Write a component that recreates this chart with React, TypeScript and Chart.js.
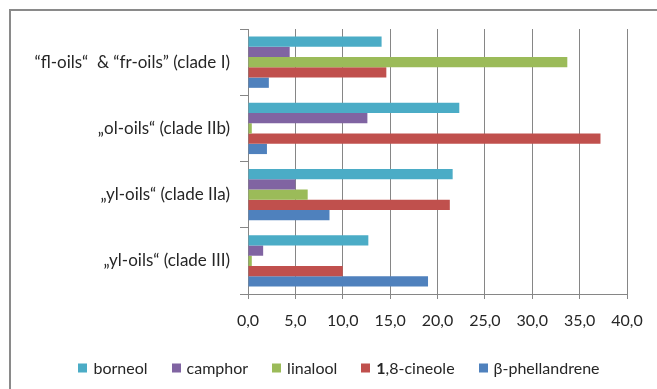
import React, { useEffect, useRef } from 'react';
import { Chart, registerables } from 'chart.js';

Chart.register(...registerables);

// Oil groups (top to bottom)
const categories = [
  '“fl-oils“  & “fr-oils” (clade I)',
  '„ol-oils“ (clade IIb)',
  '„yl-oils“ (clade IIa)',
  '„yl-oils“ (clade III)',
];

// Compound shares per group (%)
const borneol = [14.1, 22.3, 21.6, 12.7];
const camphor = [4.4, 12.6, 5.0, 1.6];
const linalool = [33.7, 0.4, 6.3, 0.4];
const cineole = [14.6, 37.2, 21.3, 10.0];
const phellandrene = [2.2, 2.0, 8.6, 19.0];

const seriesNames = ['borneol', 'camphor', 'linalool', '1,8-cineole', 'β-phellandrene'];
const seriesColors = ['#4BACC6', '#8064A2', '#9BBB59', '#C0504D', '#4F81BD'];
const seriesValues = [borneol, camphor, linalool, cineole, phellandrene];

const xTickLabels = ['0,0', '5,0', '10,0', '15,0', '20,0', '25,0', '30,0', '35,0', '40,0'];

const FONT = 'Lato, "Open Sans", sans-serif';
const TEXT = '#262626';
const GRID = '#868686';

// Draws the outer frame of the chart object
const framePlugin = {
  id: 'frame',
  beforeDraw(chart: any) {
    const ctx = chart.ctx;
    ctx.save();
    ctx.fillStyle = '#ffffff';
    ctx.fillRect(0, 0, chart.width, chart.height);
    ctx.strokeStyle = '#8a8a8a';
    ctx.lineWidth = 2;
    ctx.beginPath();
    ctx.moveTo(10, chart.height);
    ctx.lineTo(10, 10);
    ctx.lineTo(chart.width, 10);
    ctx.stroke();
    ctx.restore();
  },
};

// Legend row below the axis; the leading "1" of 1,8-cineole is set in bold
const legendPlugin = {
  id: 'bottomLegend',
  afterDraw(chart: any) {
    const ctx = chart.ctx;
    const size = 16;
    const box = 9;
    const boxGap = 6;
    const itemGap = 24;
    const y = 368;
    ctx.save();
    ctx.textBaseline = 'middle';
    const parts = seriesNames.map((name) => {
      if (name.startsWith('1,')) return [{ t: '1', b: true }, { t: name.slice(1), b: false }];
      return [{ t: name, b: false }];
    });
    const widths = parts.map((segs) =>
      segs.reduce((w, s) => {
        ctx.font = `${s.b ? 'bold ' : ''}${size}px ${FONT}`;
        return w + ctx.measureText(s.t).width;
      }, 0)
    );
    const total = widths.reduce((a, w) => a + box + boxGap + w, 0) + itemGap * (widths.length - 1);
    let x = 339 - total / 2;
    parts.forEach((segs, i) => {
      ctx.fillStyle = seriesColors[i];
      ctx.fillRect(Math.round(x), y - box / 2, box, box);
      let tx = x + box + boxGap;
      segs.forEach((s) => {
        ctx.font = `${s.b ? 'bold ' : ''}${size}px ${FONT}`;
        ctx.fillStyle = TEXT;
        ctx.textAlign = 'left';
        ctx.fillText(s.t, tx, y + 1);
        tx += ctx.measureText(s.t).width;
      });
      x += box + boxGap + widths[i] + itemGap;
    });
    ctx.restore();
  },
};

export default function App() {
  const canvasRef = useRef<HTMLCanvasElement | null>(null);

  useEffect(() => {
    if (!canvasRef.current) return;
    const chart = new Chart(canvasRef.current, {
      type: 'bar',
      data: {
        labels: categories,
        datasets: seriesNames.map((name, i) => ({
          label: name,
          data: seriesValues[i],
          backgroundColor: seriesColors[i],
          borderWidth: 0,
          categoryPercentage: 0.776,
          barPercentage: 1,
        })),
      },
      options: {
        indexAxis: 'y',
        animation: false,
        responsive: false,
        maintainAspectRatio: false,
        layout: { padding: { top: 29, right: 30, left: 0, bottom: 0 } },
        plugins: {
          legend: { display: false },
          tooltip: { enabled: false },
        },
        scales: {
          x: {
            min: 0,
            max: 40,
            ticks: {
              stepSize: 5,
              padding: 12,
              color: TEXT,
              font: { family: FONT, size: 16 },
              callback: (_v: any, i: number) => xTickLabels[i],
              maxRotation: 0,
            },
            grid: { color: GRID, lineWidth: 1, tickLength: 5, drawTicks: true },
            border: { display: true, color: GRID, width: 1 },
            afterFit: (scale: any) => {
              scale.height = 95;
            },
          },
          y: {
            ticks: {
              padding: 10,
              color: TEXT,
              font: { family: FONT, size: 17 },
            },
            grid: {
              offset: true,
              drawOnChartArea: false,
              drawTicks: true,
              tickLength: 8,
              color: GRID,
            },
            border: { display: true, color: GRID, width: 1 },
            afterFit: (scale: any) => {
              scale.width = 248;
            },
          },
        },
      },
      plugins: [framePlugin, legendPlugin],
    });
    return () => chart.destroy();
  }, []);

  return (
    <div style={{ position: 'absolute', left: 0, top: 0, width: 657, height: 389 }}>
      <canvas ref={canvasRef} width={657} height={389} />
    </div>
  );
}
